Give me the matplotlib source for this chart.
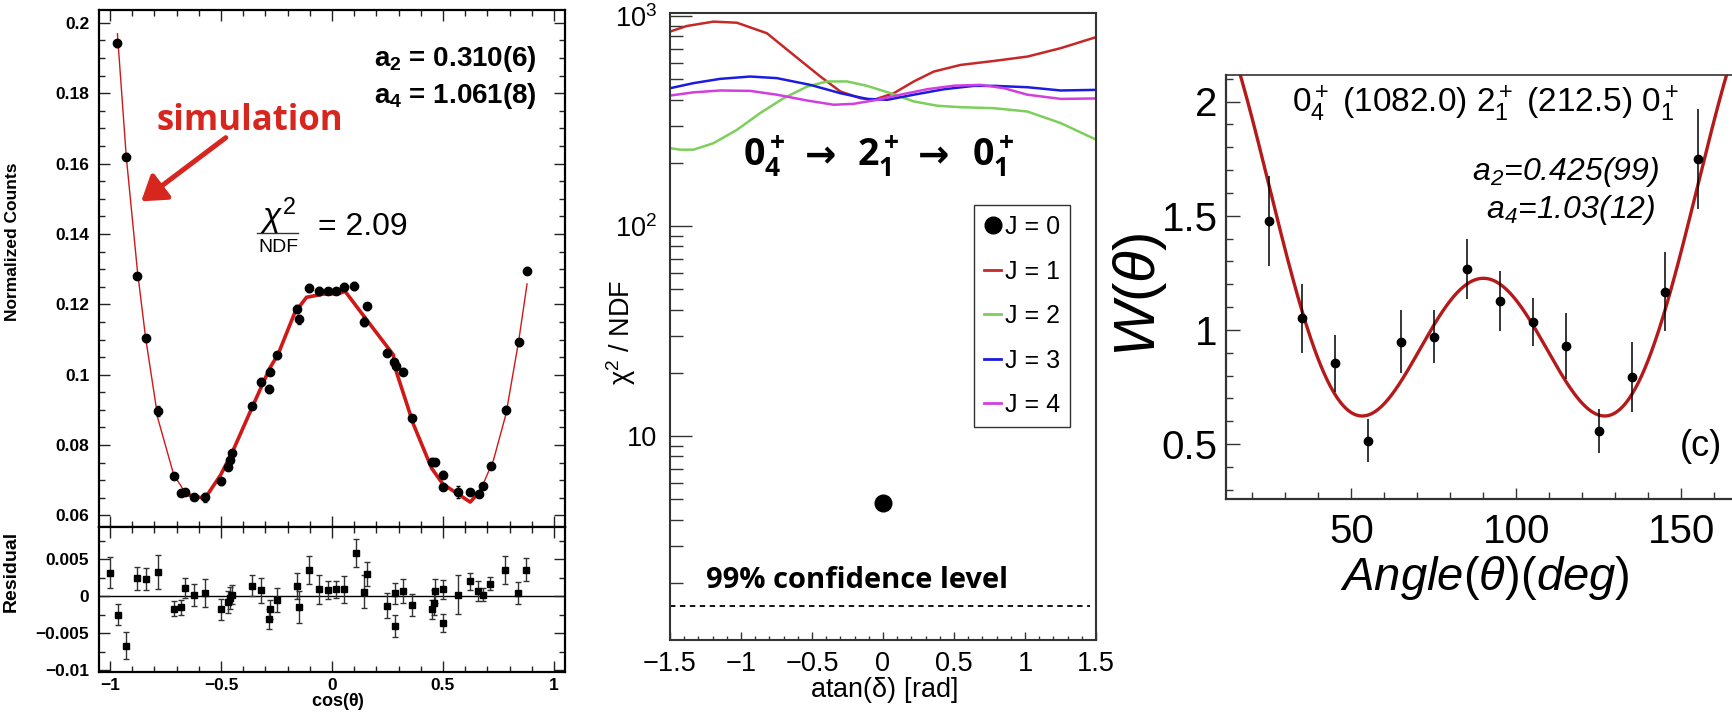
import numpy as np
import matplotlib
matplotlib.use("Agg")
import matplotlib.pyplot as plt
from matplotlib.lines import Line2D
from matplotlib.patches import FancyArrowPatch
from matplotlib.ticker import MultipleLocator, FixedLocator, LogLocator, NullFormatter

plt.rcParams['font.family'] = ['Liberation Sans', 'DejaVu Sans']
plt.rcParams['mathtext.fontset'] = 'custom'
plt.rcParams['mathtext.rm'] = 'Liberation Sans'
plt.rcParams['mathtext.it'] = 'Liberation Sans:italic'
plt.rcParams['mathtext.bf'] = 'Liberation Sans:bold'

# ---------------- (a) measured distribution vs. cos(theta) ----------------
cos_data = [-0.967, -0.927, -0.877, -0.840, -0.784, -0.713, -0.679, -0.661, -0.622, -0.571,
            -0.502, -0.467, -0.460, -0.449, -0.360, -0.318, -0.285, -0.281, -0.248, -0.158,
            -0.150, -0.105, -0.058, -0.019, 0.017, 0.056, 0.101, 0.146, 0.157, 0.250,
            0.281, 0.287, 0.319, 0.360, 0.451, 0.462, 0.500, 0.500, 0.569, 0.623,
            0.662, 0.679, 0.715, 0.784, 0.841, 0.879]
counts = [0.1942, 0.1619, 0.1280, 0.1103, 0.0898, 0.0712, 0.0664, 0.0667, 0.0653, 0.0651,
          0.0697, 0.0739, 0.0757, 0.0778, 0.0912, 0.0980, 0.0960, 0.1008, 0.1055, 0.1186,
          0.1157, 0.1247, 0.1237, 0.1239, 0.1239, 0.1250, 0.1253, 0.1151, 0.1194, 0.1063,
          0.1036, 0.1026, 0.1008, 0.0876, 0.0753, 0.0751, 0.0715, 0.0682, 0.0667, 0.0667,
          0.0660, 0.0684, 0.0741, 0.0900, 0.1092, 0.1296]
counts_err = [0.0010, 0.0010, 0.0009, 0.0010, 0.0014, 0.0008, 0.0008, 0.0008, 0.0009, 0.0012,
              0.0010, 0.0009, 0.0010, 0.0009, 0.0009, 0.0010, 0.0011, 0.0010, 0.0010, 0.0011,
              0.0013, 0.0011, 0.0011, 0.0008, 0.0008, 0.0011, 0.0011, 0.0013, 0.0010, 0.0010,
              0.0009, 0.0010, 0.0010, 0.0009, 0.0009, 0.0010, 0.0010, 0.0008, 0.0017, 0.0008,
              0.0008, 0.0006, 0.0006, 0.0012, 0.0010, 0.0009]

sim_cos = [-0.967, -0.927, -0.877, -0.840, -0.784, -0.713, -0.656, -0.573, -0.502, -0.447,
           -0.360, -0.281, -0.243, -0.168, -0.115, -0.040, 0.028, 0.059, 0.149, 0.277,
           0.284, 0.367, 0.449, 0.500, 0.623, 0.668, 0.728, 0.784, 0.841, 0.879]
sim_counts = [0.1969, 0.1619, 0.1296, 0.1105, 0.0874, 0.0715, 0.0660, 0.0648, 0.0715, 0.0783,
              0.0907, 0.1018, 0.1058, 0.1176, 0.1220, 0.1229, 0.1230, 0.1237, 0.1162, 0.1056,
              0.1020, 0.0859, 0.0734, 0.0689, 0.0638, 0.0670, 0.0758, 0.0888, 0.1095, 0.1258]

cos_res = [-1.002, -0.964, -0.927, -0.877, -0.840, -0.784, -0.713, -0.679, -0.661, -0.622,
           -0.571, -0.502, -0.467, -0.460, -0.449, -0.360, -0.318, -0.285, -0.281, -0.248,
           -0.158, -0.150, -0.105, -0.058, -0.019, 0.017, 0.055, 0.106, 0.145, 0.156,
           0.248, 0.285, 0.285, 0.318, 0.360, 0.449, 0.459, 0.464, 0.501, 0.501,
           0.569, 0.622, 0.659, 0.679, 0.712, 0.779, 0.839, 0.872]
resid = [0.0032, -0.0025, -0.0067, 0.0024, 0.0023, 0.0033, -0.0017, -0.0015, 0.0011, 0.0002,
         0.0004, -0.0018, -0.0008, -0.0003, 0.0002, 0.0014, 0.0008, -0.0031, -0.0018, -0.0005,
         0.0014, -0.0015, 0.0035, 0.0009, 0.0008, 0.0009, 0.0009, 0.0059, 0.0006, 0.0030,
         -0.0013, 0.0004, -0.0040, 0.0007, -0.0012, -0.0018, -0.0009, 0.0007, 0.0009, -0.0036,
         0.0002, 0.0020, 0.0007, 0.0002, 0.0017, 0.0035, 0.0004, 0.0036]
resid_err = [0.0021, 0.0014, 0.0018, 0.0016, 0.0015, 0.0023, 0.0010, 0.0010, 0.0013, 0.0015,
             0.0019, 0.0014, 0.0015, 0.0015, 0.0013, 0.0014, 0.0017, 0.0014, 0.0013, 0.0016,
             0.0018, 0.0022, 0.0019, 0.0019, 0.0012, 0.0012, 0.0018, 0.0019, 0.0022, 0.0016,
             0.0017, 0.0014, 0.0015, 0.0016, 0.0015, 0.0013, 0.0017, 0.0016, 0.0013, 0.0012,
             0.0026, 0.0012, 0.0014, 0.0009, 0.0009, 0.0019, 0.0015, 0.0015]

# ---------------- (b) chi2/NDF vs. mixing angle ----------------
atan_j1 = [-1.5, -1.382, -1.194, -1.029, -0.818, -0.630, -0.441, -0.300, -0.159, -0.065,
           0.076, 0.217, 0.358, 0.547, 0.782, 1.017, 1.252, 1.5]
chi_j1 = [843, 896, 940, 929, 828, 653, 515, 437, 406, 399, 429, 488, 544, 585, 611, 641, 703, 793]
atan_j2 = [-1.5, -1.429, -1.335, -1.194, -1.029, -0.865, -0.700, -0.535, -0.394, -0.253,
           -0.112, 0.053, 0.217, 0.382, 0.547, 0.782, 1.017, 1.252, 1.5]
chi_j2 = [235, 231, 231, 248, 287, 345, 406, 461, 488, 488, 465, 429, 392, 374, 368, 364, 351, 309, 258]
atan_j3 = [-1.5, -1.335, -1.147, -0.935, -0.747, -0.512, -0.300, -0.112, 0.029, 0.217,
           0.429, 0.641, 0.782, 1.017, 1.252, 1.5]
chi_j3 = [453, 479, 502, 515, 506, 470, 429, 403, 399, 422, 448, 465, 465, 458, 442, 445]
atan_j4 = [-1.5, -1.335, -1.147, -0.935, -0.747, -0.535, -0.347, -0.206, -0.041, 0.123,
           0.311, 0.500, 0.688, 0.853, 1.017, 1.252, 1.5]
chi_j4 = [418, 433, 442, 440, 422, 396, 378, 382, 399, 422, 448, 466, 470, 453, 422, 403, 405]
atan_j0 = [0.0]
chi_j0 = [4.82]
chi_cl99 = 1.557
j_labels = ['J = 0', 'J = 1', 'J = 2', 'J = 3', 'J = 4']
j_colors = ['black', '#c62828', '#7ccf5a', '#1c1ce0', '#d23ee0']

# ---------------- (c) angular correlation W(theta) ----------------
angle_deg = [25, 35, 45, 55, 65, 75, 85, 95, 105, 115, 125, 135, 145, 155]
w_theta = [1.477, 1.051, 0.854, 0.516, 0.949, 0.971, 1.267, 1.128, 1.036, 0.930,
           0.559, 0.793, 1.168, 1.748]
w_err = [0.197, 0.151, 0.124, 0.096, 0.137, 0.115, 0.130, 0.131, 0.105, 0.143,
         0.097, 0.153, 0.172, 0.219]
a2_c, a4_c = 0.425, 1.03
norm_c = 1.0446

W, H = 1732, 714


def box(l, t, r, b):
    return [l / W, 1 - b / H, (r - l) / W, (b - t) / H]


def fx(x):
    return x / W


def fy(y):
    return 1 - y / H


fig = plt.figure(figsize=(W / 100, H / 100), dpi=100)

# ================= panel (a) =================
bold = dict(fontweight='bold')
ax1 = fig.add_axes(box(99, 9.5, 565, 526.7))
ax1r = fig.add_axes(box(99, 526.7, 565, 671.5))

ax1.plot(sim_cos, sim_counts, color='#d01818', lw=1.0, zorder=2)
ax1.plot(sim_cos[6:26], sim_counts[6:26], color='#d01818', lw=2.6, zorder=2)
ax1.errorbar(cos_data, counts, yerr=counts_err, fmt='o', color='black', ms=6,
             elinewidth=1.0, capsize=1.5, capthick=1.0, zorder=3)
ax1.set_xlim(-1.05, 1.05)
ax1.set_ylim(0.0568, 0.2038)
ax1.yaxis.set_major_locator(FixedLocator([0.06, 0.08, 0.10, 0.12, 0.14, 0.16, 0.18, 0.20]))
ax1.set_yticklabels(['0.06', '0.08', '0.1', '0.12', '0.14', '0.16', '0.18', '0.2'], **bold)
ax1.yaxis.set_minor_locator(MultipleLocator(0.005))
ax1.xaxis.set_major_locator(MultipleLocator(0.5))
ax1.xaxis.set_minor_locator(MultipleLocator(0.1))
ax1.tick_params(labelbottom=False)

ax1r.axhline(0, color='black', lw=1.0, zorder=1)
ax1r.errorbar(cos_res, resid, yerr=resid_err, fmt='s', color='black', ms=4.5,
              ecolor='#333333', elinewidth=1.0, capsize=2.0, capthick=1.0, zorder=3)
ax1r.set_xlim(-1.05, 1.05)
ax1r.set_ylim(-0.0102, 0.0094)
ax1r.yaxis.set_major_locator(FixedLocator([-0.01, -0.005, 0.0, 0.005]))
ax1r.set_yticklabels(['\u22120.01', '\u22120.005', '0', '0.005'], **bold)
ax1r.yaxis.set_minor_locator(MultipleLocator(0.0025))
ax1r.xaxis.set_major_locator(FixedLocator([-1, -0.5, 0, 0.5, 1]))
ax1r.set_xticklabels(['\u22121', '\u22120.5', '0', '0.5', '1'], **bold)
ax1r.xaxis.set_minor_locator(MultipleLocator(0.1))

for a in (ax1, ax1r):
    a.tick_params(which='both', direction='in', top=True, right=True, labelsize=12.5,
                  width=1.0, color='#222222')
    a.tick_params(which='major', length=8)
    a.tick_params(which='minor', length=4)
    a.tick_params(axis='y', pad=7)
    a.tick_params(axis='x', pad=5)
    for s in a.spines.values():
        s.set_linewidth(1.6)

ax1.set_ylabel('Normalized Counts', fontsize=12.5, **bold)
ax1.yaxis.set_label_coords(-0.1695, 0.55)
ax1r.set_ylabel('Residual', fontsize=14, **bold)
ax1r.yaxis.set_label_coords(-0.1695, 0.694)
ax1r.set_xlabel(r'cos($\mathregular{\theta}$)', fontsize=13, **bold)
ax1r.xaxis.set_label_coords(0.513, -0.21)
ax1r.xaxis.label.set_va('center')

fig.text(fx(537), fy(59), r'a$\mathregular{_2}$ = 0.310(6)', fontsize=20, ha='right', va='center', **bold)
fig.text(fx(537), fy(96), r'a$\mathregular{_4}$ = 1.061(8)', fontsize=20, ha='right', va='center', **bold)
fig.text(fx(250), fy(121), 'simulation', color='#d7261e', fontsize=25,
         family=['Open Sans', 'DejaVu Sans'], fontweight='bold', ha='center', va='center')
fig.patches.append(FancyArrowPatch((fx(228), fy(136)), (fx(139), fy(203)),
                                   transform=fig.transFigure, arrowstyle='-|>,head_length=9,head_width=6',
                                   mutation_scale=1.6, color='#d7261e', lw=3.6))
fig.text(fx(278), fy(216), r'$\chi^{2}$', fontsize=24, ha='center', va='center')
fig.add_artist(Line2D([fx(257), fx(298)], [fy(233), fy(233)], color='#333333', lw=1.0))
fig.text(fx(278), fy(248), 'NDF', fontsize=14, ha='center', va='center')
fig.text(fx(318), fy(227), '= 2.09', fontsize=23, ha='left', va='center')

# ================= panel (b) =================
ax2 = fig.add_axes(box(670, 13.3, 1096, 640))
ax2.plot(atan_j1, chi_j1, color=j_colors[1], lw=1.8)
ax2.plot(atan_j2, chi_j2, color=j_colors[2], lw=1.8)
ax2.plot(atan_j3, chi_j3, color=j_colors[3], lw=1.8)
ax2.plot(atan_j4, chi_j4, color=j_colors[4], lw=1.8)
ax2.plot(atan_j0, chi_j0, 'o', color='black', ms=12)
ax2.plot([-1.5, 1.457], [chi_cl99, chi_cl99], color='black', lw=1.3, ls=(0, (3, 2.5)))
ax2.set_yscale('log')
ax2.set_xlim(-1.5, 1.5)
ax2.set_ylim(1.07, 1030)
ax2.yaxis.set_major_locator(FixedLocator([10, 100, 1000]))
ax2.set_yticklabels(['10', r'10$^2$', r'10$^3$'])
ax2.yaxis.set_minor_locator(LogLocator(base=10, subs=np.arange(2, 10)))
ax2.yaxis.set_minor_formatter(NullFormatter())
ax2.xaxis.set_major_locator(FixedLocator([-1.5, -1, -0.5, 0, 0.5, 1, 1.5]))
ax2.set_xticklabels(['\u22121.5', '\u22121', '\u22120.5', '0', '0.5', '1', '1.5'])
ax2.xaxis.set_minor_locator(MultipleLocator(0.1))
ax2.tick_params(which='both', direction='in', labelsize=19.5, width=1.0, color='#333333')
ax2.tick_params(axis='y', which='major', length=16, pad=9)
ax2.tick_params(axis='y', which='minor', length=9)
ax2.tick_params(axis='x', which='major', length=6, pad=8)
ax2.tick_params(axis='x', which='minor', length=3)
for s in ax2.spines.values():
    s.set_linewidth(1.5)
    s.set_color('#333333')
ax2.set_xlabel(r'atan($\mathregular{\delta}$) [rad]', fontsize=19.5)
ax2.xaxis.set_label_coords(0.501, -0.080)
ax2.xaxis.label.set_va('center')
ax2.set_ylabel(r'$\mathregular{\chi^2}$ / NDF', fontsize=19.5)
ax2.yaxis.set_label_coords(-0.115, 0.49)
ax2.yaxis.label.set_va('center')

handles = [Line2D([], [], marker='o', color='black', ls='none', ms=12)]
handles += [Line2D([], [], color=c, lw=2) for c in j_colors[1:]]
leg = ax2.legend(handles, j_labels, loc='upper left', bbox_to_anchor=(0.7136, 0.694),
                 frameon=True, fancybox=False, edgecolor='#333333', framealpha=1,
                 borderaxespad=0, handlelength=0.7, handletextpad=0.15, labelspacing=0.82,
                 borderpad=0.4, fontsize=18)
leg.get_frame().set_linewidth(1.0)

# transition label: level pieces in Open Sans Bold, arrows from DejaVu Sans Bold
open_bold = dict(family=['Open Sans', 'DejaVu Sans'], fontweight='bold', va='baseline')
fig.text(fx(743), fy(166), r'0$\mathregular{_4^+}$', fontsize=27, ha='left', **open_bold)
fig.text(fx(857), fy(166), r'2$\mathregular{_1^+}$', fontsize=27, ha='left', **open_bold)
fig.text(fx(972), fy(166), r'0$\mathregular{_1^+}$', fontsize=27, ha='left', **open_bold)
for xa in (821, 934):
    fig.text(fx(xa), fy(167), '\u2192', fontsize=27, ha='center', va='baseline',
             family='DejaVu Sans', fontweight='bold')
fig.text(fx(857), fy(580), '99% confidence level', family=['Open Sans', 'DejaVu Sans'],
         fontweight='bold', fontsize=21, ha='center', va='center')

# ================= panel (c) =================
ax3 = fig.add_axes(box(1226, 75, 1747.4, 499))
th = np.linspace(12, 170, 500)
c = np.cos(np.radians(th))
p2 = 0.5 * (3 * c ** 2 - 1)
p4 = (35 * c ** 4 - 30 * c ** 2 + 3) / 8
ax3.plot(th, norm_c * (1 + a2_c * p2 + a4_c * p4), color='#b51a1a', lw=2.4, zorder=2)
ax3.errorbar(angle_deg, w_theta, yerr=w_err, fmt='o', color='black', ms=6,
             elinewidth=1.1, capsize=0, zorder=3)
ax3.set_xlim(12, 170)
ax3.set_ylim(0.26, 2.116)
ax3.xaxis.set_major_locator(MultipleLocator(50))
ax3.xaxis.set_minor_locator(MultipleLocator(10))
ax3.yaxis.set_major_locator(FixedLocator([0.5, 1.0, 1.5, 2.0]))
ax3.set_yticklabels(['0.5', '1', '1.5', '2'])
ax3.yaxis.set_minor_locator(MultipleLocator(0.1))
ax3.tick_params(which='both', direction='in', labelsize=29, width=1.0, color='#333333')
ax3.tick_params(axis='y', which='major', length=10, pad=6)
ax3.tick_params(axis='y', which='minor', length=5)
ax3.tick_params(axis='x', which='major', length=8, pad=10)
ax3.tick_params(axis='x', which='minor', length=5)
ax3.spines['left'].set_linewidth(1.6)
ax3.spines['bottom'].set_linewidth(1.6)
ax3.spines['top'].set_linewidth(1.2)
ax3.spines['right'].set_visible(False)
for s in ax3.spines.values():
    s.set_color('#333333')
ax3.set_xlabel(r'$Angle(\theta)(deg)$', fontsize=34)
ax3.set_ylabel(r'$W(\theta)$', fontsize=42)
ax3.xaxis.set_label_coords((1485 - 1226) / 521.4, -(578 - 499) / 424)
ax3.xaxis.label.set_va('center')
ax3.yaxis.set_label_coords((1140 - 1226) / 521.4, (499 - 295) / 424)
ax3.yaxis.label.set_va('center')

fig.text(fx(1485), fy(104), r'0$\mathregular{_4^+}$ (1082.0) 2$\mathregular{_1^+}$ (212.5) 0$\mathregular{_1^+}$',
         fontsize=24, ha='center', va='center')
fig.text(fx(1566), fy(172), r'a$\mathregular{_2}$=0.425(99)', fontsize=23, style='italic',
         ha='center', va='center')
fig.text(fx(1571), fy(210), r'a$\mathregular{_4}$=1.03(12)', fontsize=23, style='italic',
         ha='center', va='center')
fig.text(fx(1701), fy(447), '(c)', fontsize=26, ha='center', va='center')

fig.savefig('out.png', dpi=100)
